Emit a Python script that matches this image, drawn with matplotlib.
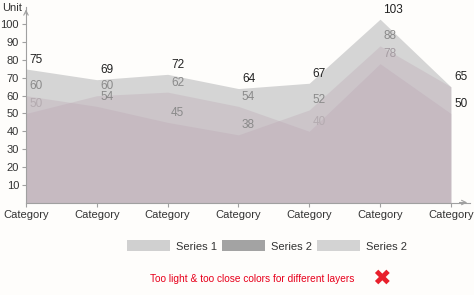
import numpy as np
import matplotlib
matplotlib.use("Agg")
import matplotlib.pyplot as plt
from matplotlib.patches import Patch

## Data ##
categories = ["Category"] * 7
series1 = [75, 69, 72, 64, 67, 103, 65]
series2a = [60, 54, 45, 38, 52, 88, 65]
series2b = [50, 60, 62, 54, 40, 78, 50]
yticks = [10, 20, 30, 40, 50, 60, 70, 80, 90, 100]

plt.rcParams['font.family'] = ['Liberation Sans', 'DejaVu Sans']
plt.rcParams['font.size'] = 8

fig = plt.figure(figsize=(4.74, 2.95), dpi=100)
fig.patch.set_facecolor('#fefdfb')
ax = fig.add_axes([26/474, 1 - 202.5/295, 444/474, 110*1.78/295])
ax.set_facecolor('none')

x = np.arange(len(categories))

# layers: light grey on the back, two pinkish ones over it
ax.fill_between(x, 0, series1, color='#d5d5d5', lw=0, zorder=1)
ax.fill_between(x, 0, series2b, color='#b9a1b0', alpha=0.3, lw=0, zorder=2)
ax.fill_between(x, 0, series2a, color='#b9a1b0', alpha=0.3, lw=0, zorder=3)

# data labels
def put_labels(vals, colors, z):
    for xi, v, c in zip(x, vals, colors):
        if c is None:
            continue
        ax.annotate(str(v), (xi, v), xytext=(2.5, 2.5), textcoords='offset points',
                    ha='left', va='bottom', color=c, fontsize=8.5, zorder=z)

put_labels(series1, ['#222222'] * 7, 10)
put_labels(series2a, ['#8a8a8a'] * 6 + [None], 10)
put_labels(series2b, ['#b4abb0', '#8a8a8a', '#8a8a8a', '#8a8a8a', '#b4abb0', '#a39aa0', '#222222'], 10)

## Axes ##
ax.set_xlim(0, 6.27)
ax.set_ylim(0, 110)
ax.set_xticks(x)
ax.set_xticklabels(categories, color='#333333')
ax.set_yticks(yticks)
ax.set_yticklabels([str(t) for t in yticks], color='#333333')
ax.tick_params(axis='both', length=3, width=0.8, color='#a0a0a0', pad=2)
ax.tick_params(axis='x', pad=2.5)
for s in ['top', 'right']:
    ax.spines[s].set_visible(False)
for s in ['left', 'bottom']:
    ax.spines[s].set_color('#a0a0a0')
    ax.spines[s].set_linewidth(0.8)
    ax.spines[s].set_zorder(5)

ax.annotate('', xy=(0, 1.0), xytext=(0, 0.95), xycoords='axes fraction',
            arrowprops=dict(arrowstyle='->', color='#a0a0a0', lw=0.8), annotation_clip=False)
ax.annotate('', xy=(1.0, 0), xytext=(0.97, 0), xycoords='axes fraction',
            arrowprops=dict(arrowstyle='->', color='#a0a0a0', lw=0.8), annotation_clip=False)

fig.text(2/474, 1 - 8/295, 'Unit', ha='left', va='center', color='#333333', fontsize=8)

## Legend ##
handles = [Patch(facecolor='#d0d0d0', edgecolor='none'),
           Patch(facecolor='#a3a3a3', edgecolor='none'),
           Patch(facecolor='#d3d3d3', edgecolor='none')]
fig.legend(handles, ['Series 1', 'Series 2', 'Series 2'], ncol=3, loc='center',
           bbox_to_anchor=(267/474, 1 - 246/295), frameon=False,
           handlelength=3.9, handleheight=1.1, handletextpad=0.55, columnspacing=0.4,
           labelcolor='#333333', fontsize=8)

fig.text(252/474, 1 - 279/295, 'Too light & too close colors for different layers',
         ha='center', va='center', color='#e8001c', fontsize=7.3)
fig.text(381/474, 1 - 279/295, '\u2716', ha='center', va='center', color='#e8202c',
         fontsize=16, family=['DejaVu Sans'])

fig.savefig('out.png', dpi=100, facecolor=fig.get_facecolor())
